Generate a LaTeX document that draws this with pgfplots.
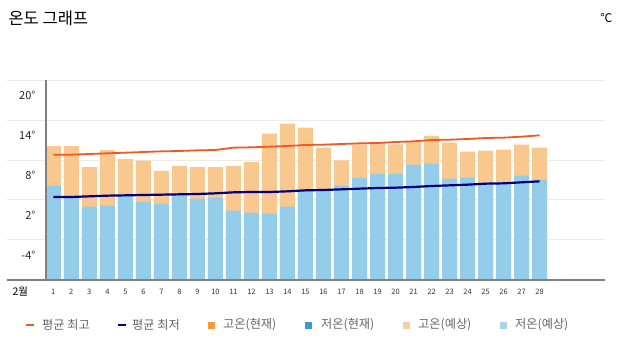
\documentclass[border=0pt]{standalone}
\usepackage{pgfplots}
\pgfplotsset{compat=1.18}
\usepackage{pgfplotstable}
\usepackage{fontspec}
\setmainfont{Noto Sans CJK KR}
\definecolor{hiBar}{HTML}{F9C88E}
\definecolor{loBar}{HTML}{93CDEA}
\definecolor{hiLine}{HTML}{EE5A24}
\definecolor{loLine}{HTML}{000080}
\definecolor{hiNow}{HTML}{F49C3C}
\definecolor{loNow}{HTML}{3A9AD9}
\definecolor{hiFc}{HTML}{F9CFA0}
\definecolor{loFc}{HTML}{A6D4EC}
\definecolor{axgray}{HTML}{808080}
\definecolor{gridc}{HTML}{EBEBEB}
\definecolor{legtxt}{HTML}{666666}

\pgfplotstableread{
day hi lo
1 10.1 4.15
2 10.1 2.3
3 6.95 1.0
4 9.5 1.15
5 8.15 2.65
6 7.9 1.75
7 6.35 1.45
8 7.1 2.65
9 6.95 2.2
10 6.95 2.35
11 7.1 0.4
12 7.7 0.1
13 11.95 -0.05
14 13.45 1.0
15 12.85 3.4
16 9.85 3.5
17 7.95 4.15
18 10.35 5.35
19 10.6 5.95
20 10.35 5.95
21 10.85 7.3
22 11.6 7.45
23 10.6 5.2
24 9.25 5.35
25 9.4 4.6
26 9.55 4.6
27 10.3 5.65
28 9.85 5.05
}\bars

\pgfplotstableread{
day avghi avglo
1 8.8 2.45
2 8.8 2.45
3 8.9 2.55
4 9.0 2.65
5 9.1 2.7
6 9.2 2.75
7 9.3 2.8
8 9.35 2.85
9 9.45 2.9
10 9.5 3.0
11 9.85 3.15
12 9.9 3.2
13 10.0 3.2
14 10.1 3.3
15 10.25 3.45
16 10.3 3.5
17 10.4 3.6
18 10.5 3.7
19 10.55 3.8
20 10.7 3.85
21 10.8 3.95
22 11.0 4.1
23 11.05 4.2
24 11.15 4.3
25 11.3 4.45
26 11.35 4.5
27 11.5 4.65
28 11.7 4.8
}\avgs

\begin{document}
\begin{tikzpicture}[x=1pt,y=1pt]
\useasboundingbox (0,0) rectangle (624,351);
\fill[white] (0,0) rectangle (624,351);
% title
\node[anchor=west, font=\fontsize{16.5}{19}\selectfont] at (5,333) {온도 그래프};
\node[anchor=east, font=\fontsize{12}{14}\selectfont] at (616,333) {℃};
\begin{axis}[
  at={(7pt,71pt)}, anchor=south west,
  width=598pt, height=200pt, scale only axis,
  xmin=-1.571, xmax=31.63,
  ymin=0, ymax=30,
  axis line style={draw=none},
  ytick={6,12,18,24,30},
  yticklabels={-4°,2°,8°,14°,20°},
  ymajorgrids, major grid style={gridc, line width=1pt},
  xtick={1,...,28},
  major tick length=0pt,
  /pgf/number format/assume math mode=true,
  yticklabel style={anchor=east, xshift=32pt, yshift=-15pt, font=\fontsize{11}{13}\selectfont, text=black!85},
  xticklabel style={anchor=center, yshift=-12pt, font=\fontsize{7.5}{9}\selectfont, text=black!80},
  clip=false,
]
\addplot[ybar, bar width=15pt, bar shift=0pt, fill=hiBar, draw=none] table[x=day, y expr=\thisrow{hi}+10] {\bars};
\addplot[ybar, bar width=15pt, bar shift=0pt, fill=loBar, draw=none] table[x=day, y expr=\thisrow{lo}+10] {\bars};
\addplot[hiLine, line width=1.8pt, mark=none] table[x=day, y expr=\thisrow{avghi}+10] {\avgs};
\addplot[loLine, line width=2.2pt, mark=none] table[x=day, y expr=\thisrow{avglo}+10] {\avgs};
\draw[axgray, line width=2pt] (axis cs:0.583,0) -- (axis cs:0.583,30);
\draw[axgray, line width=2pt] (axis cs:-1.571,0) -- (axis cs:31.63,0);
\end{axis}
\node[anchor=west, font=\fontsize{10.5}{12}\selectfont] at (9,59) {2월};
% legend
\begin{scope}[font=\fontsize{12.2}{14}\selectfont, text=legtxt]
\fill[hiLine!80!brown] (26,25) rectangle (34,27.5);
\node[anchor=west, inner sep=0] at (42,26) {평균 최고};
\fill[loLine] (118,25) rectangle (126,27.5);
\node[anchor=west, inner sep=0] at (132,26) {평균 최저};
\fill[hiNow] (208,22.5) rectangle (215,29.5);
\node[anchor=west, inner sep=0] at (223,26) {고온(현재)};
\fill[loNow] (305,22.5) rectangle (312,29.5);
\node[anchor=west, inner sep=0] at (321,26) {저온(현재)};
\fill[hiFc] (403,22.5) rectangle (410,29.5);
\node[anchor=west, inner sep=0] at (418,26) {고온(예상)};
\fill[loFc] (500,22.5) rectangle (507,29.5);
\node[anchor=west, inner sep=0] at (515,26) {저온(예상)};
\end{scope}
\end{tikzpicture}
\end{document}
